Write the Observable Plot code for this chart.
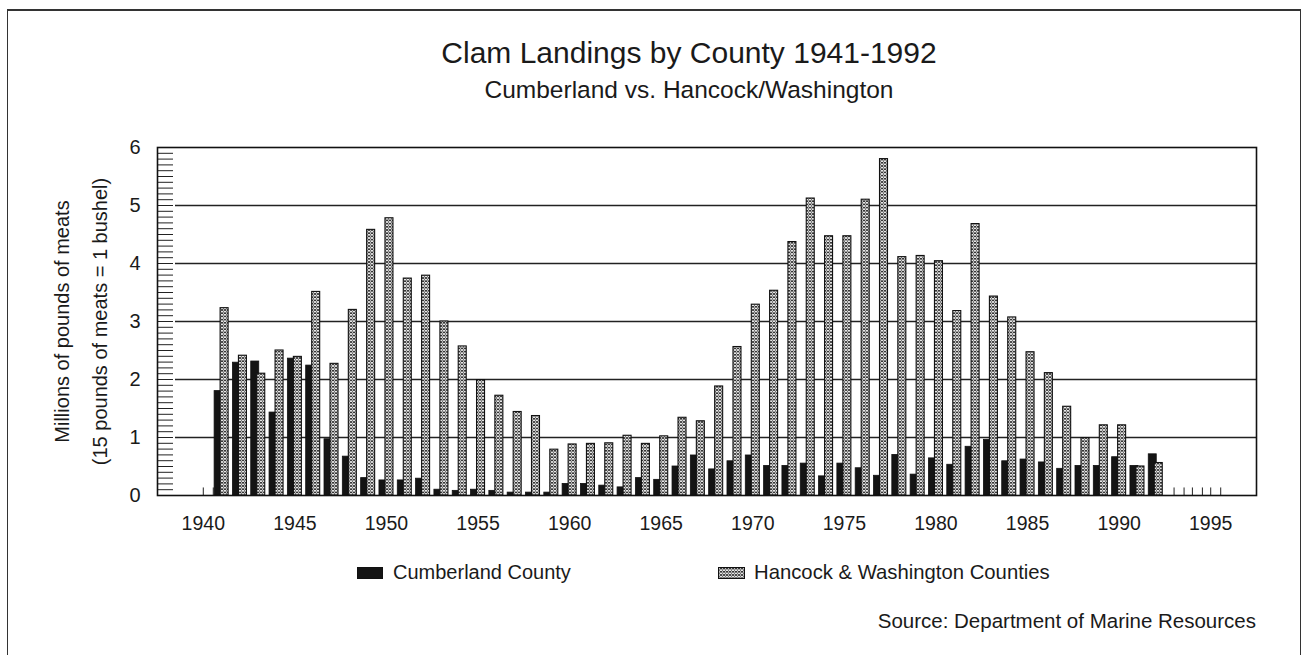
<!DOCTYPE html>
<html><head><meta charset="utf-8">
<script src="https://cdn.jsdelivr.net/npm/d3@7"></script>
<script src="https://cdn.jsdelivr.net/npm/@observablehq/plot@0.6"></script>
<style>
html,body{margin:0;padding:0;background:#fff;}
#page{position:relative;width:1309px;height:655px;overflow:hidden;font-family:"Liberation Sans",Arial,sans-serif;color:#1a1a1a;}
#border{position:absolute;left:7px;top:9px;width:1292px;height:700px;border-left:1.5px solid #333;border-top:2px solid #333;border-right:1.5px solid #333;}
.t{position:absolute;white-space:nowrap;line-height:1;}
#chart{position:absolute;left:0;top:110px;}
.sw{position:absolute;}
</style></head>
<body><div id="page">
<svg width="0" height="0" style="position:absolute;left:0;top:0">
  <defs>
    <pattern id="dots" patternUnits="userSpaceOnUse" width="3" height="3.2">
      <rect width="3" height="3.2" fill="#fff"></rect>
      <circle cx="1.5" cy="1.6" r="1.05" fill="none" stroke="#111" stroke-width="0.8"></circle>
    </pattern>
  </defs>
</svg>
<div id="border"></div>
<div class="t" id="title" style="left:689px;top:38px;font-size:30px;transform:translateX(-50%)"></div>
<div class="t" id="subtitle" style="left:689px;top:78px;font-size:24.5px;transform:translateX(-50%)"></div>
<div id="chart"></div>
<svg class="sw" style="left:357px;top:567px" width="26" height="12"><rect x="0.5" y="0.5" width="25" height="11" fill="#141414" stroke="#111"></rect></svg>
<div class="t" id="leg1" style="left:393px;top:562px;font-size:20px"></div>
<svg class="sw" style="left:718px;top:567px" width="27" height="12"><rect x="0.5" y="0.5" width="26" height="11" fill="url(#dots)" stroke="#111"></rect></svg>
<div class="t" id="leg2" style="left:754px;top:562px;font-size:20.3px"></div>
<div class="t" id="source" style="right:53px;top:611px;font-size:20.5px"></div>
</div>
<script>
const titleText = "Clam Landings by County 1941-1992";
const subtitleText = "Cumberland vs. Hancock/Washington";
const yTitle1 = "Millions of pounds of meats";
const yTitle2 = "(15 pounds of meats = 1 bushel)";
const sourceText = "Source: Department of Marine Resources";
const seriesNames = ["Cumberland County", "Hancock & Washington Counties"];

const years = d3.range(1941, 1993);
const cumberland = [
  1.80, 2.29, 2.31, 1.43, 2.36, 2.24, 0.97, 0.67, 0.30, 0.26,
  0.26, 0.29, 0.10, 0.08, 0.10, 0.08, 0.05, 0.05, 0.05, 0.20,
  0.20, 0.17, 0.14, 0.30, 0.27, 0.50, 0.69, 0.45, 0.59, 0.69,
  0.51, 0.51, 0.55, 0.33, 0.55, 0.47, 0.34, 0.70, 0.36, 0.64,
  0.53, 0.84, 0.96, 0.59, 0.62, 0.57, 0.46, 0.51, 0.51, 0.66,
  0.51, 0.71
];
const hancock = [
  3.23, 2.41, 2.10, 2.50, 2.39, 3.51, 2.27, 3.20, 4.58, 4.78,
  3.74, 3.79, 3.00, 2.57, 1.99, 1.72, 1.44, 1.37, 0.79, 0.88,
  0.89, 0.90, 1.03, 0.89, 1.02, 1.34, 1.28, 1.88, 2.56, 3.29,
  3.53, 4.37, 5.12, 4.47, 4.47, 5.10, 5.80, 4.11, 4.13, 4.04,
  3.18, 4.68, 3.43, 3.07, 2.47, 2.11, 1.53, 0.99, 1.21, 1.21,
  0.50, 0.56
];
const yearSlots = d3.range(1938, 1998);
const xTickLabels = [1940, 1945, 1950, 1955, 1960, 1965, 1970, 1975, 1980, 1985, 1990, 1995];
const yTicks = [0, 1, 2, 3, 4, 5, 6];
const gridValues = [1, 2, 3, 4, 5];
const zeroYears = [1940, 1993, 1994, 1995];

document.getElementById("title").textContent = titleText;
document.getElementById("subtitle").textContent = subtitleText;
document.getElementById("leg1").textContent = seriesNames[0];
document.getElementById("leg2").textContent = seriesNames[1];
document.getElementById("source").textContent = sourceText;

const cumData = years.map((year, i) => ({year, value: cumberland[i]}));
const hanData = years.map((year, i) => ({year, value: hancock[i]}));
const minorTicks = d3.range(1, 60).map(i => i / 10);

const W = 1309, H = 430, mL = 157, mR = 53, mT = 37, mB = 45;
const frameW = W - mL - mR;
const bandW = frameW / yearSlots.length;
const inNear = bandW / 2 - 7, inFar = bandW / 2 - 1;

const chart = Plot.plot({
  width: W, height: H,
  marginLeft: mL, marginRight: mR, marginTop: mT, marginBottom: mB,
  style: {fontFamily: "'Liberation Sans', Arial, sans-serif", background: "transparent", color: "#1a1a1a"},
  x: {type: "band", domain: yearSlots, padding: 0, round: false},
  y: {domain: [0, 6]},
  marks: [
    Plot.ruleY(gridValues, {y: d => d, insetLeft: 18, stroke: "#222", strokeWidth: 1.3}),
    Plot.ruleY(minorTicks, {y: d => d, insetRight: frameW - 16, stroke: "#222", strokeWidth: 1}),
    Plot.barY(cumData, {x: "year", y: "value", fill: "#141414", stroke: "#111", strokeWidth: 0.8, insetLeft: inNear, insetRight: inFar}),
    Plot.barY(hanData, {x: "year", y: "value", fill: "url(#dots)", stroke: "#111", strokeWidth: 1.1, insetLeft: inFar, insetRight: inNear}),
    Plot.ruleX(zeroYears, {x: d => d, y1: 0, y2: 0.13, stroke: "#222"}),
    Plot.ruleX(zeroYears, {x: d => d, y1: 0, y2: 0.13, dx: 10, stroke: "#222"}),
    Plot.frame({stroke: "#111", strokeWidth: 1.6}),
    Plot.axisY({ticks: yTicks, tickSize: 0, tickPadding: 17, fontSize: 20, label: null, tickFormat: d => `${d}`}),
    Plot.axisX({ticks: xTickLabels, tickSize: 0, tickPadding: 21, fontSize: 19.5, label: null, tickFormat: d => `${d}`}),
    Plot.text([yTitle1], {text: d => d, frameAnchor: "left", textAnchor: "middle", dx: -95, rotate: -90, fontSize: 20}),
    Plot.text([yTitle2], {text: d => d, frameAnchor: "left", textAnchor: "middle", dx: -57, rotate: -90, fontSize: 20})
  ]
});
document.getElementById("chart").appendChild(chart);
</script>
</body></html>
